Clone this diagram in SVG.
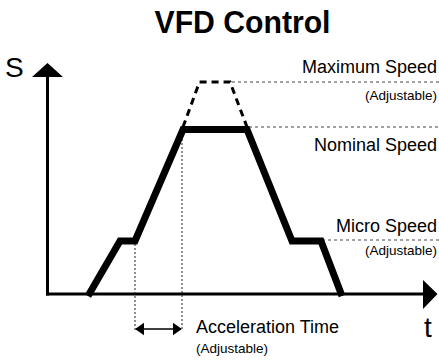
<svg xmlns="http://www.w3.org/2000/svg" width="439" height="360" viewBox="0 0 439 360">
<style>
text{font-family:"Liberation Sans",Arial,sans-serif;fill:#000}
.lbl{font-size:18px;text-anchor:end}
.adj{font-size:13.5px;text-anchor:end}
.dot{stroke:#444;stroke-width:1;stroke-dasharray:3 3;fill:none}
.vdot{stroke:#222;stroke-width:1;stroke-dasharray:2 2;fill:none}
</style>
<defs>
<marker id="ah" viewBox="0 0 10 14" refX="9" refY="7" markerWidth="9" markerHeight="14" markerUnits="userSpaceOnUse" orient="auto-start-reverse">
<path d="M0,0 L10,7 L0,14 Z" fill="#000"/>
</marker>
</defs>
<rect width="439" height="360" fill="#fff"/>
<g id="title"><text x="242.5" y="33" font-size="31" font-weight="bold" text-anchor="middle" textLength="176" lengthAdjust="spacingAndGlyphs">VFD Control</text></g>
<g id="axes">
<line x1="47.5" y1="76" x2="47.5" y2="295.5" stroke="#000" stroke-width="3"/>
<line x1="46" y1="294" x2="425" y2="294" stroke="#000" stroke-width="3"/>
<path d="M32,77 L47.5,63 L63,77 Z" fill="#000"/>
<path d="M423,280 L437.5,294 L423,309 Z" fill="#000"/>
<text x="5" y="77" font-size="28">S</text>
<text x="424" y="337" font-size="28">t</text>
</g>
<g id="connectors">
<line class="dot" x1="232" y1="82" x2="439" y2="82"/>
<line class="dot" x1="249" y1="127" x2="439" y2="127"/>
<line class="dot" x1="322" y1="240" x2="439" y2="240"/>
<line class="vdot" x1="135" y1="244" x2="135" y2="331"/>
<line class="vdot" x1="182" y1="131" x2="182" y2="331"/>
<line x1="136" y1="329" x2="181" y2="329" stroke="#000" stroke-width="1.5" marker-start="url(#ah)" marker-end="url(#ah)"/>
</g>
<g id="curve">
<polyline points="88,296 120,241 135,241 183,129.5 247,129.5 292,241 321,241 342,296" fill="none" stroke="#000" stroke-width="7" stroke-linejoin="miter"/>
<polyline points="183,127 199.5,82 230,82 247,127" fill="none" stroke="#000" stroke-width="3" stroke-dasharray="7 5"/>
</g>
<g id="max-speed"><text class="lbl" x="437" y="73">Maximum Speed</text><text class="adj" x="437" y="100">(Adjustable)</text></g>
<g id="nominal-speed"><text class="lbl" x="437" y="151">Nominal Speed</text></g>
<g id="micro-speed"><text class="lbl" x="437" y="232">Micro Speed</text><text class="adj" x="437" y="255">(Adjustable)</text></g>
<g id="accel-time"><text x="196" y="333" font-size="18">Acceleration Time</text><text x="196" y="353" font-size="13.5">(Adjustable)</text></g>
</svg>
